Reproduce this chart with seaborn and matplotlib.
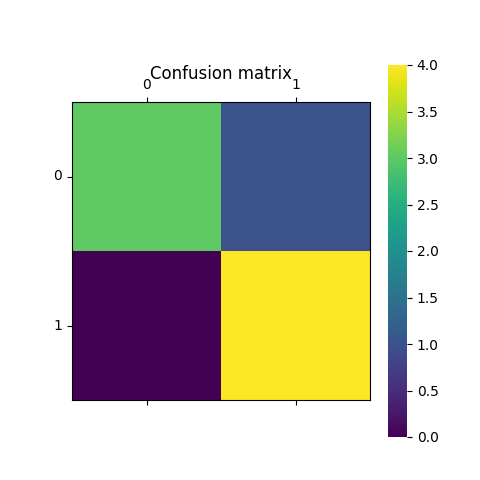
import numpy as np
import matplotlib
matplotlib.use("Agg")
import matplotlib.pyplot as plt
import seaborn as sns

labels = ["0", "1"]
cm = np.array([[3, 1],
               [0, 4]])

fig = plt.figure(figsize=(4.8, 4.8), dpi=100)
ax = fig.add_axes([72 / 480, 80 / 480, 298 / 480, 298 / 480])
cax = fig.add_axes([388 / 480, 43 / 480, 19 / 480, 372 / 480])
sns.heatmap(cm, cmap="viridis", vmin=0, vmax=4, cbar=True, cbar_ax=cax,
            xticklabels=labels, yticklabels=labels, ax=ax)
for s in ax.spines.values():
    s.set_visible(True)
ax.tick_params(top=True, bottom=True, labeltop=True, labelbottom=False,
               left=True)
plt.setp(ax.get_yticklabels(), rotation=0, va="center")
plt.setp(ax.get_xticklabels(), rotation=0)
cbar = ax.collections[0].colorbar
cbar.outline.set_visible(True)
cbar.set_ticks(np.arange(0, 4.01, 0.5))
ax.set_title("Confusion matrix", y=1.05)
plt.savefig("out.png")
